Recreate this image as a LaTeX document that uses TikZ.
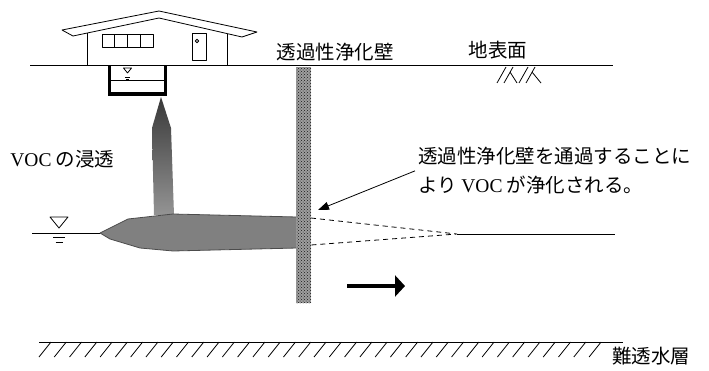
\documentclass[tikz,border=0pt]{standalone}
\usepackage{fontspec}
\setmainfont{Noto Sans CJK JP}
\newfontfamily\lat{Liberation Serif}
\usetikzlibrary{patterns,arrows.meta}
\newcommand\VOC{{\lat VOC}}

\begin{document}
\begin{tikzpicture}[x=1pt, y=-1pt, line join=round, line width=0.8pt,
    font=\fontsize{19.5}{29}\selectfont,
    lbl/.style={inner sep=0pt},
    wlevel/.pic={\draw (-9,0) -- (9,0) -- (0,11) -- cycle;
                 \draw (-6,20) -- (6,20) (-3.5,25) -- (3.5,25);}]
    \useasboundingbox (0,0) rectangle (709,370);
    \def\gy{65} % ground level
    \def\wy{233} % water table
    % house
    \draw (62,30) -- (159,11) -- (257,32) -- (242,37) -- (159,18) -- (73,36) -- cycle;
    \draw (87,33) -- (87,\gy) (227,34) -- (227,\gy);
    \foreach \i in {0,...,3} \draw ({102+12.75*\i},34) rectangle ++(12.75,13);
    \draw (192,33) rectangle (206,60);
    \draw (197,41) circle (1.8);
    % ground surface
    \draw (30,\gy) -- (613,\gy);
    \draw (497,83) -- (506,67) (504,83) -- (513,67) (510,72) -- (517,83)
          (519,83) -- (528,67) (526,83) -- (535,67) (532,72) -- (541,83);
    % underground tank
    \draw[line width=3.5pt, line join=miter] (109.5,\gy) -- (109.5,94) -- (165.5,94) -- (165.5,\gy);
    \draw (109,80) -- (166,80);
    \pic[scale=0.45] at (127.5,68) {wlevel};
    % seepage of VOC down to the water table
    \shade[top color=black!78, bottom color=black!42]
        (161,97) -- (171,128) -- (174,215) -- (154,215) -- (152,128) -- cycle;
    % contaminated plume
    \draw[draw=black!70, fill=black!50]
        (100,\wy) -- (128,219) -- (173,214) -- (297,217) -- (297,248)
        -- (173,251) -- (140,248) -- (110,239) -- cycle;
    \draw (32,\wy) -- (100,\wy);
    \pic at (59,217) {wlevel};
    % plume fading out behind the wall
    \coordinate (P) at (457,234);
    \draw[dash pattern=on 5pt off 4pt] (311,218) -- (P) -- (311,245);
    \draw (P) -- (615,234);
    % permeable reactive wall
    \fill[black!38] (296,67) rectangle (311,303);
    \fill[pattern=crosshatch dots, pattern color=black!90] (296,67) rectangle (311,303);
    % groundwater flow
    \draw[line width=4pt, -{Triangle[length=10pt,width=21pt]}] (347,286) -- (405,286);
    % aquiclude
    \draw (39,342) -- (623,342);
    \foreach \i in {0,...,36} \draw ({39+15.28*\i},357) -- ++(12,-15);
    % labels
    \node[lbl] (wallname) at (335,52) {透過性浄化壁};
    \node[lbl] (surface) at (498,50) {地表面};
    \node[lbl, anchor=west] (seep) at (10,159) {\VOC\ の浸透};
    \node[lbl, anchor=north west, align=left] (note) at (418,147)
        {透過性浄化壁を通過することに\\より \VOC\ が浄化される。};
    \node[lbl, anchor=west] (aquic) at (612,356) {難透水層};
    \coordinate (tipc) at (318,210);
    \draw[-{Triangle[length=11pt,width=8pt]}] ([xshift=-3pt]note.west) -- (tipc);
\end{tikzpicture}
\end{document}
